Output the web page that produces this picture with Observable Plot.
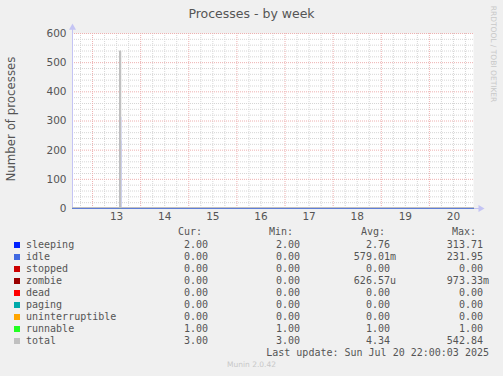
<!DOCTYPE html>
<html>
<head>
<meta charset="utf-8">
<script src="https://cdn.jsdelivr.net/npm/d3@7"></script>
<script src="https://cdn.jsdelivr.net/npm/@observablehq/plot@0.6"></script>
<style>
  html, body { margin: 0; padding: 0; background: #f0f0f0; }
  #wrap { position: relative; width: 503px; height: 376px; background: #f0f0f0; overflow: hidden; font-family: "DejaVu Sans", sans-serif; color: #555; }
  #wrap svg { position: absolute; left: 0; top: 0; }
  .t { position: absolute; white-space: pre; }
  .mono { font-family: "DejaVu Sans Mono", monospace; font-size: 10px; line-height: 12px; color: #555; }
  .sw { position: absolute; width: 6px; height: 6px; }
</style>
</head>
<body>
<div id="wrap"></div>
<script>
// ---- data ----
const times = ["2025-07-12T14:00:00Z", "2025-07-13T13:00:00Z", "2025-07-13T13:30:00Z", "2025-07-13T14:00:00Z", "2025-07-20T22:00:00Z"];
const sleeping = [2, 2, 313.71, 2, 2];
const idle = [0, 0, 231.95, 0, 0];
const stopped = [0, 0, 0, 0, 0];
const zombie = [0, 0, 0.97, 0, 0];
const dead = [0, 0, 0, 0, 0];
const paging = [0, 0, 0, 0, 0];
const uninterruptible = [0, 0, 0, 0, 0];
const runnable = [1, 1, 1, 1, 1];
const total = [3, 3, 540, 3, 3];

const seriesNames = ["sleeping", "idle", "stopped", "zombie", "dead", "paging", "uninterruptible", "runnable", "total"];
const seriesColors = ["#0022ff", "#4169e1", "#cc0000", "#990000", "#ff0000", "#00aaaa", "#ffa500", "#22ff22", "#c0c0c0"];
const curVals = ["2.00", "0.00", "0.00", "0.00", "0.00", "0.00", "0.00", "1.00", "3.00"];
const minVals = ["2.00", "0.00", "0.00", "0.00", "0.00", "0.00", "0.00", "1.00", "3.00"];
const avgVals = ["2.76", "579.01m", "0.00", "626.57u", "0.00", "0.00", "0.00", "1.00", "4.34"];
const maxVals = ["313.71", "231.95", "0.00", "973.33m", "0.00", "0.00", "0.00", "1.00", "542.84"];
const yTicks = [0, 100, 200, 300, 400, 500, 600];
const dayLabels = ["13", "14", "15", "16", "17", "18", "19", "20"];

const title = "Processes - by week";
const yLabel = "Number of processes";
const lastUpdate = "Last update: Sun Jul 20 22:00:03 2025";
const footer = "Munin 2.0.42";
const sideText = "RRDTOOL / TOBI OETIKER";

// ---- build ----
const dates = times.map(s => new Date(s));
const start = dates[0], end = dates[dates.length - 1];
const valuesBy = {sleeping, idle, stopped, zombie, dead, paging, uninterruptible, runnable, total};
const drawOrder = ["stopped", "zombie", "dead", "paging", "uninterruptible", "runnable", "sleeping", "idle"];
const rows = [];
for (const name of drawOrder) {
  valuesBy[name].forEach((v, i) => rows.push({series: name, t: dates[i], v}));
}
const totalRows = total.map((v, i) => ({series: "total", t: dates[i], v}));
const colorOf = Object.fromEntries(seriesNames.map((n, i) => [n, seriesColors[i]]));

const noonTicks = dayLabels.map(d => new Date(`2025-07-${d}T12:00:00Z`));
const midnights = d3.utcDay.range(start, end);
const sixHours = d3.utcHour.every(6).range(start, end).filter(d => d.getUTCHours() !== 0);
const yMinor = d3.range(0, 601, 20).filter(v => v % 100 !== 0);
const yMajor = yTicks.filter(v => v > 0);

const gridGray = "#d6d6d6";
const gridRed = "#eeb0b0";
const axisCol = "#c4c4f4";

const chart = Plot.plot({
  width: 503,
  height: 376,
  marginTop: 33,
  marginBottom: 168,
  marginLeft: 72,
  marginRight: 30,
  style: {background: "transparent", fontFamily: "DejaVu Sans", fontSize: "10.5px", color: "#555", overflow: "visible"},
  x: {type: "utc", domain: [start, end]},
  y: {domain: [0, 600]},
  marks: [
    Plot.frame({fill: "white", stroke: null}),
    Plot.ruleY(yMinor, {stroke: gridGray, strokeDasharray: "1,1", strokeWidth: 1}),
    Plot.ruleX(sixHours, {stroke: gridGray, strokeDasharray: "1,1", strokeWidth: 1}),
    Plot.ruleY(yMajor, {stroke: gridRed, strokeDasharray: "1,1", strokeWidth: 1}),
    Plot.ruleX(midnights, {stroke: gridRed, strokeDasharray: "1,1", strokeWidth: 1}),
    Plot.ruleX([start], {y1: 0, y2: 618, stroke: axisCol}),
    Plot.ruleY([0], {x1: start, x2: new Date(end.getTime() + 3 * 3600e3), stroke: axisCol}),
    Plot.dot([start], {x: d => d, y: 620, symbol: "triangle", r: 2.6, fill: axisCol, stroke: null}),
    Plot.dot([0], {x: new Date(end.getTime() + 3.5 * 3600e3), y: d => d, symbol: "triangle", r: 2.6, rotate: 90, fill: axisCol, stroke: null}),
    Plot.line(rows, {x: "t", y: "v", z: "series", stroke: d => colorOf[d.series], strokeWidth: 1, curve: "step-after"}),
    Plot.line(totalRows, {x: "t", y: "v", stroke: colorOf.total, strokeWidth: 1.2, curve: "step-after"}),
    Plot.axisY({ticks: yTicks, tickSize: 0, tickPadding: 6, label: null, tickFormat: d => String(d)}),
    Plot.axisX({ticks: noonTicks, tickSize: 0, tickPadding: 4, label: null, tickFormat: d => String(d.getUTCDate())})
  ]
});

const wrap = document.getElementById("wrap");
wrap.appendChild(chart);

function addText(txt, left, top, cls, extra) {
  const el = document.createElement("div");
  el.className = "t " + (cls || "");
  el.textContent = txt;
  el.style.left = left + "px";
  el.style.top = top + "px";
  if (extra) Object.assign(el.style, extra);
  wrap.appendChild(el);
  return el;
}
function addRight(txt, right, top, cls) {
  const el = addText(txt, 0, top, cls);
  el.style.left = "auto";
  el.style.right = (503 - right) + "px";
  return el;
}

// Title
addText(title, 0, 6, "", {width: "503px", textAlign: "center", fontSize: "12.5px", color: "#555"});
// Y label
addText(yLabel, 11 - 70, 119 - 8, "", {width: "140px", textAlign: "center", fontSize: "11.8px", lineHeight: "16px", color: "#555", transform: "rotate(-90deg)", transformOrigin: "70px 8px"});
// Side text
addText(sideText, 493 - 60, 54 - 5, "", {width: "120px", textAlign: "center", fontSize: "7.5px", lineHeight: "10px", color: "#c8c8c8", transform: "rotate(90deg)", transformOrigin: "60px 5px"});

// Legend header
const hdrTop = 232 - 6;
addText("Cur:", 178, hdrTop, "mono");
addText("Min:", 269, hdrTop, "mono");
addText("Avg:", 361, hdrTop, "mono");
addText("Max:", 452, hdrTop, "mono");

seriesNames.forEach((name, i) => {
  const cy = 244.8 + i * 12;
  const sw = document.createElement("div");
  sw.className = "sw";
  sw.style.left = "14px";
  sw.style.top = (cy - 3) + "px";
  sw.style.background = seriesColors[i];
  wrap.appendChild(sw);
  const top = cy - 6;
  addText(name, 26, top, "mono");
  const pad = s => (/[a-z]$/i.test(s) ? s : s + " ");
  addRight(pad(curVals[i]), 214, top, "mono");
  addRight(pad(minVals[i]), 306, top, "mono");
  addRight(pad(avgVals[i]), 396, top, "mono");
  addRight(pad(maxVals[i]), 489, top, "mono");
});

addRight(lastUpdate, 489, 352.8 - 6, "mono");
addText(footer, 0, 360, "", {width: "503px", textAlign: "center", fontSize: "7.5px", lineHeight: "10px", color: "#c8c8c8"});
</script>
</body>
</html>
